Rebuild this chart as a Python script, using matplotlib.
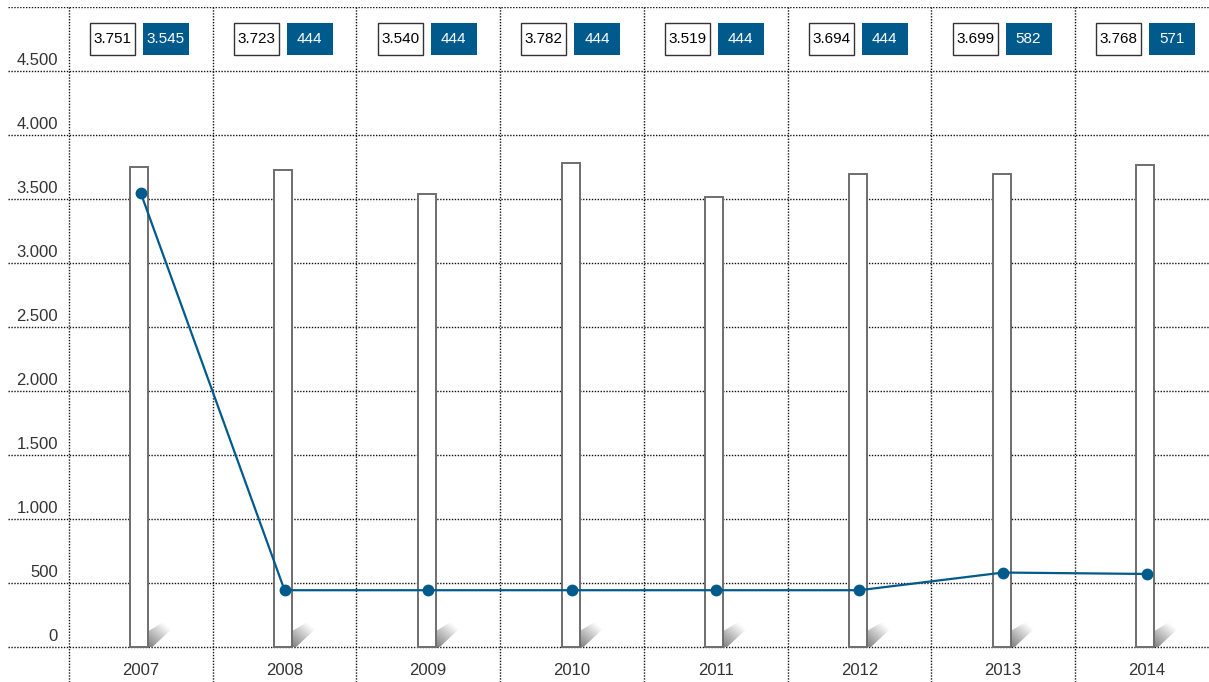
import numpy as np
import matplotlib.pyplot as plt
from matplotlib.patches import Rectangle, Polygon

plt.rcParams['font.family'] = ['Liberation Sans Narrow', 'Liberation Sans', 'DejaVu Sans']

years = ['2007', '2008', '2009', '2010', '2011', '2012', '2013', '2014']
bar_vals = [3751, 3723, 3540, 3782, 3519, 3694, 3699, 3768]
line_vals = [3545, 444, 444, 444, 444, 444, 582, 571]
yticks = [0, 500, 1000, 1500, 2000, 2500, 3000, 3500, 4000, 4500]

BLUE = '#005a8c'
W, H = 1209, 682
PX_X = 143.7          # pixels per category
PX_Y = 0.1282         # pixels per value unit


def fmt(v):
    return f"{v:,}".replace(',', '.')


fig = plt.figure(figsize=(W / 100, H / 100), dpi=100)
ax = fig.add_axes([8 / W, 0, (W - 8) / W, 675 / H])
x0 = -0.5 - 61 / PX_X
x1 = -0.5 + (W - 69) / PX_X
y0 = -35 / PX_Y
ax.set_xlim(x0, x1)
ax.set_ylim(y0, 5000)
ax.axis('off')

dots = dict(color='#111111', lw=1.0, ls=(0, (1, 1.1)), zorder=1)
# horizontal grid
for v in yticks + [5000]:
    ax.plot([x0, x1], [v, v], **dots)
# vertical grid
for i in range(len(years) + 1):
    ax.plot([i - 0.5, i - 0.5], [y0, 5000], **dots)

# y labels
for v in yticks:
    ax.text(-0.5 - 11 / PX_X, v + 25, fmt(v), ha='right', va='bottom',
            fontsize=12, color='#333333')

x = np.arange(len(years))
bw = 18 / PX_X

# shadows
sh_w = 40 / PX_X
sh_h = 34 / PX_Y
nx, ny = 60, 60
u = np.linspace(0, 1, nx)[None, :]
vv = np.linspace(0, 1, ny)[:, None]
t = np.clip((u + vv) / 1.1, 0, 1)
g = 0.5 + 0.5 * t
img = np.dstack([g, g, g, np.ones_like(g)])
for i in x:
    xr = i - 0.01 + bw / 2
    poly = Polygon([(xr, 0), (xr, 16 / PX_Y), (xr + 30 / PX_X, sh_h),
                    (xr + 40 / PX_X, sh_h), (xr + 4 / PX_X, 0)],
                   closed=True, transform=ax.transData, fc='none', ec='none')
    ax.add_patch(poly)
    im = ax.imshow(img, extent=[xr, xr + sh_w, 0, sh_h], origin='lower',
                   aspect='auto', zorder=2, interpolation='bilinear')
    im.set_clip_path(poly)

ax.bar(x - 0.01, bar_vals, width=bw, color='white', edgecolor='#6e6e6e',
       linewidth=1.4, zorder=3)

ax.plot(x, line_vals, color=BLUE, lw=1.6, marker='o', markersize=7.5,
        zorder=4)

# x labels
for i, yr in enumerate(years):
    ax.text(i, -180, yr, ha='center', va='center', fontsize=12,
            color='#333333')

# value boxes
bx_w = 45 / PX_X
bx_h = 33 / PX_Y
yc = 4750
for i in x:
    cw = i - 28 / PX_X
    ax.add_patch(Rectangle((cw - bx_w / 2, yc - bx_h / 2), bx_w, bx_h,
                           fc='white', ec='#333333', lw=1.0, zorder=5))
    ax.text(cw, yc, fmt(bar_vals[i]), ha='center', va='center',
            fontsize=11, color='black', zorder=6)
    cb = i + 25 / PX_X
    ax.add_patch(Rectangle((cb - bx_w / 2, yc - bx_h / 2), bx_w + 1 / PX_X,
                           bx_h, fc=BLUE, ec='none', zorder=5))
    ax.text(cb, yc, fmt(line_vals[i]), ha='center', va='center',
            fontsize=11, color='white', zorder=6)

fig.savefig('out.png', dpi=100)
